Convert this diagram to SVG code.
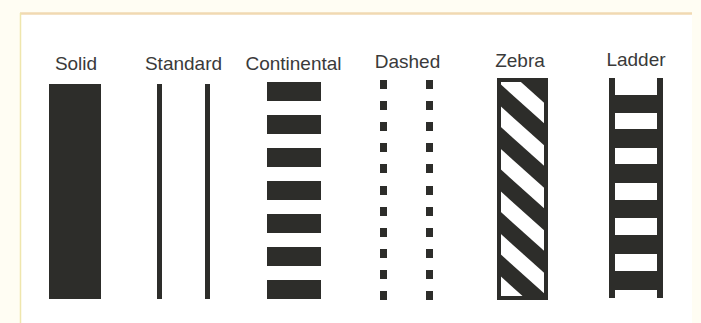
<svg xmlns="http://www.w3.org/2000/svg" width="701" height="323" viewBox="0 0 701 323">
  <style>
    .lbl { font-family: "Liberation Sans", Arial, sans-serif; font-size: 19px; fill: #3a3a3a; text-anchor: middle; }
    .ink { fill: #2d2d2a; }
  </style>
  <defs>
    <clipPath id="zclip"><rect x="499" y="80" width="47" height="218"/></clipPath>
  </defs>
  <rect x="0" y="0" width="701" height="323" fill="#fffdf3"/>
  <rect x="20" y="13" width="672" height="310" fill="#ffffff"/>
  <line x1="20" y1="13.5" x2="692" y2="13.5" stroke="#f1d9b2" stroke-width="2.5"/>
  <line x1="20.5" y1="13" x2="20.5" y2="323" stroke="#efe6ad" stroke-width="1.5"/>

  <g id="solid">
    <text class="lbl" x="76" y="70">Solid</text>
    <rect class="ink" x="49" y="84" width="52" height="215"/>
  </g>

  <g id="standard">
    <text class="lbl" x="183.5" y="70">Standard</text>
    <rect class="ink" x="157" y="84" width="5" height="215"/>
    <rect class="ink" x="205" y="84" width="5" height="215"/>
  </g>

  <g id="continental">
    <text class="lbl" x="293.5" y="70">Continental</text>
    <rect class="ink" x="267" y="82" width="54" height="19"/>
    <rect class="ink" x="267" y="115" width="54" height="19"/>
    <rect class="ink" x="267" y="148" width="54" height="19"/>
    <rect class="ink" x="267" y="181" width="54" height="19"/>
    <rect class="ink" x="267" y="214" width="54" height="19"/>
    <rect class="ink" x="267" y="247" width="54" height="19"/>
    <rect class="ink" x="267" y="280" width="54" height="19"/>
  </g>

  <g id="dashed">
    <text class="lbl" x="407.5" y="68">Dashed</text>
    <g class="ink">
      <rect x="380" y="80" width="7" height="9"/><rect x="426" y="80" width="7" height="9"/>
      <rect x="380" y="101" width="7" height="9"/><rect x="426" y="101" width="7" height="9"/>
      <rect x="380" y="122" width="7" height="9"/><rect x="426" y="122" width="7" height="9"/>
      <rect x="380" y="143" width="7" height="9"/><rect x="426" y="143" width="7" height="9"/>
      <rect x="380" y="164" width="7" height="9"/><rect x="426" y="164" width="7" height="9"/>
      <rect x="380" y="186" width="7" height="9"/><rect x="426" y="186" width="7" height="9"/>
      <rect x="380" y="207" width="7" height="9"/><rect x="426" y="207" width="7" height="9"/>
      <rect x="380" y="228" width="7" height="9"/><rect x="426" y="228" width="7" height="9"/>
      <rect x="380" y="249" width="7" height="9"/><rect x="426" y="249" width="7" height="9"/>
      <rect x="380" y="270" width="7" height="9"/><rect x="426" y="270" width="7" height="9"/>
      <rect x="380" y="291" width="7" height="9"/><rect x="426" y="291" width="7" height="9"/>
    </g>
  </g>

  <g id="zebra">
    <text class="lbl" x="520" y="67">Zebra</text>
    <g class="ink" clip-path="url(#zclip)">
      <polygon points="490,32.2 560,95.2 560,117.2 490,54.2"/>
      <polygon points="490,74.7 560,137.7 560,159.7 490,96.7"/>
      <polygon points="490,117.2 560,180.2 560,202.2 490,139.2"/>
      <polygon points="490,159.7 560,222.7 560,244.7 490,181.7"/>
      <polygon points="490,202.2 560,265.2 560,287.2 490,224.2"/>
      <polygon points="490,244.7 560,307.7 560,329.7 490,266.7"/>
      <polygon points="490,287.2 560,350.2 560,372.2 490,309.2"/>
    </g>
    <rect x="499" y="80" width="47" height="218" fill="none" stroke="#2d2d2a" stroke-width="4"/>
  </g>

  <g id="ladder">
    <text class="lbl" x="636" y="66">Ladder</text>
    <rect class="ink" x="609" y="78" width="6" height="220"/>
    <rect class="ink" x="657" y="78" width="6" height="220"/>
    <rect class="ink" x="615" y="95" width="42" height="18"/>
    <rect class="ink" x="615" y="129" width="42" height="19"/>
    <rect class="ink" x="615" y="164" width="42" height="19"/>
    <rect class="ink" x="615" y="200" width="42" height="18"/>
    <rect class="ink" x="615" y="235" width="42" height="19"/>
    <rect class="ink" x="615" y="271" width="42" height="19"/>
  </g>
</svg>
